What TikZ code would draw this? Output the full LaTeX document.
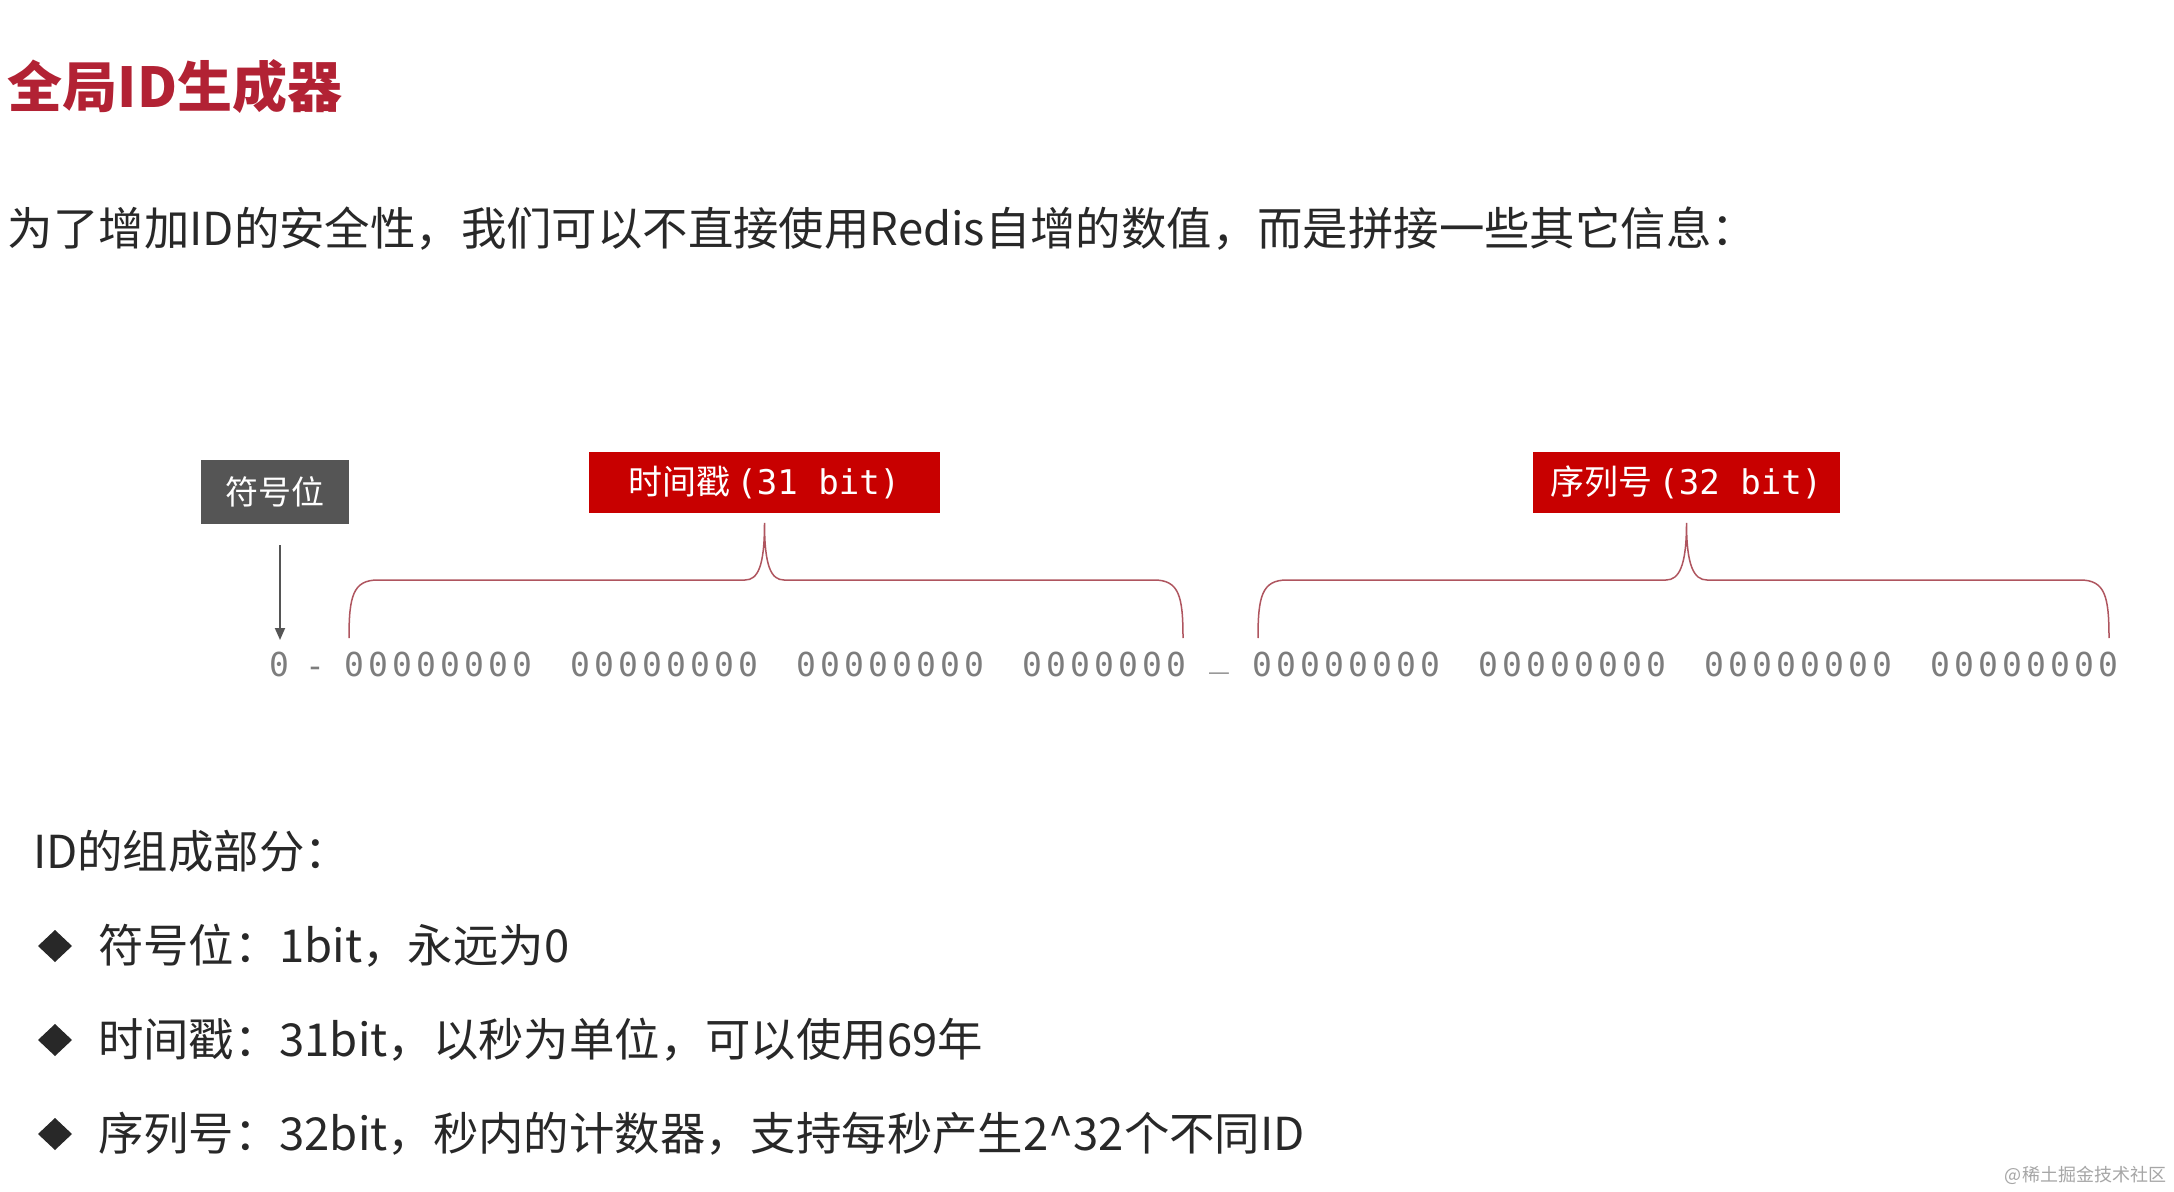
\documentclass[tikz,border=0pt]{standalone}
\usepackage{fontspec}
\setmainfont{Noto Sans CJK SC}
\newfontfamily\monofnt{DejaVu Sans Mono}
\usetikzlibrary{shapes.geometric,arrows.meta}
\definecolor{titlered}{RGB}{178,34,52}
\definecolor{boxred}{RGB}{200,0,0}
\definecolor{boxgray}{RGB}{85,85,85}
\definecolor{txt}{RGB}{40,40,40}
\definecolor{bitgray}{RGB}{125,125,125}
\definecolor{bracecol}{RGB}{175,85,95}
\newcommand\zd{\makebox[12pt]{0}}
\newcommand\octet{\zd\zd\zd\zd\zd\zd\zd\zd}
\newcommand\septet{\zd\zd\zd\zd\zd\zd\zd}
\begin{document}
\begin{tikzpicture}[x=0.5pt,y=-0.5pt,
  every node/.style={inner sep=0pt, outer sep=0pt},
  titletext/.style={anchor=west, text=titlered, font=\fontsize{27.5}{33}\selectfont\bfseries},
  body/.style={anchor=west, text=txt, font=\fontsize{22.7}{27}\selectfont},
  graybox/.style={fill=boxgray, text=white, minimum width=74pt, minimum height=32pt, font=\fontsize{16.5}{20}\selectfont},
  redbox/.style={fill=boxred, text=white, minimum height=30.5pt, font=\fontsize{17}{20}\selectfont},
  bits/.style={text=bitgray, font=\monofnt\fontsize{16.5}{20}\selectfont},
  bracket/.style={draw=bracecol, line width=0.75pt},
  bulletmark/.style={diamond, fill=txt, minimum width=17pt, minimum height=16pt},
  pointer/.style={draw=boxgray, line width=0.9pt, -{Triangle[length=6pt,width=5pt]}},
]
\path[use as bounding box, fill=white] (0,0) rectangle (2174,1192);

% title and intro
\node[titletext] (title) at (8,87) {全局ID生成器};
\node[body] (intro) at (8,229) {为了增加ID的安全性，我们可以不直接使用Redis自增的数值，而是拼接一些其它信息：};

% labels
\node[graybox] (sign) at (275,492) {符号位};
\node[redbox, minimum width=175.5pt] (ts) at (764.5,482.5) {时间戳\,{\monofnt (31 bit)}};
\node[redbox, minimum width=153.5pt] (seq) at (1686.5,482.5) {序列号\,{\monofnt (32 bit)}};

% bits row
\node[bits] (b0) at (279,664) {0};
\node[bits, anchor=base] (d1) at (315,677) {-};
\node[bits] (g1) at (438,664) {\octet};
\node[bits] (g2) at (664,664) {\octet};
\node[bits] (g3) at (890,664) {\octet};
\node[bits] (g4) at (1104,664) {\septet};
\node[bits, anchor=base] (d2) at (1219,666) {\_};
\node[bits] (g5) at (1346,664) {\octet};
\node[bits] (g6) at (1572,664) {\octet};
\node[bits] (g7) at (1798,664) {\octet};
\node[bits] (g8) at (2024,664) {\octet};

% pointer arrow
\coordinate (arrS) at (280,545);
\coordinate (arrE) at (280,640);
\draw[pointer] (arrS) -- (arrE);

% braces
\coordinate (t1) at ([yshift=-5pt]ts.south);
\draw[bracket] (349,638) .. controls (349,596) and (353,580) .. (378,580)
  -- (745,580) .. controls (758,580) and (764.5,566) .. (t1)
  .. controls (764.5,566) and (771,580) .. (784,580)
  -- (1154,580) .. controls (1179,580) and (1183,596) .. (1183,638);
\coordinate (t2) at ([yshift=-5pt]seq.south);
\draw[bracket] (1258,638) .. controls (1258,596) and (1262,580) .. (1287,580)
  -- (1666,580) .. controls (1679,580) and (1686.5,566) .. (t2)
  .. controls (1686.5,566) and (1694,580) .. (1707,580)
  -- (2080,580) .. controls (2105,580) and (2109,596) .. (2109,638);

% composition list
\node[body] (parts) at (33,851) {ID的组成部分：};
\node[bulletmark] (m1) at (55,946) {};
\node[body] (l1) at (98,946) {符号位：1bit，永远为0};
\node[bulletmark] (m2) at (55,1040) {};
\node[body] (l2) at (98,1040) {时间戳：31bit，以秒为单位，可以使用69年};
\node[bulletmark] (m3) at (55,1134) {};
\node[body] (l3) at (98,1134) {序列号：32bit，秒内的计数器，支持每秒产生2\^{}32个不同ID};

% watermark
\node[anchor=east, text=black!35, font=\fontsize{9}{11}\selectfont] (wm) at (2166,1175) {@稀土掘金技术社区};
\end{tikzpicture}
\end{document}
